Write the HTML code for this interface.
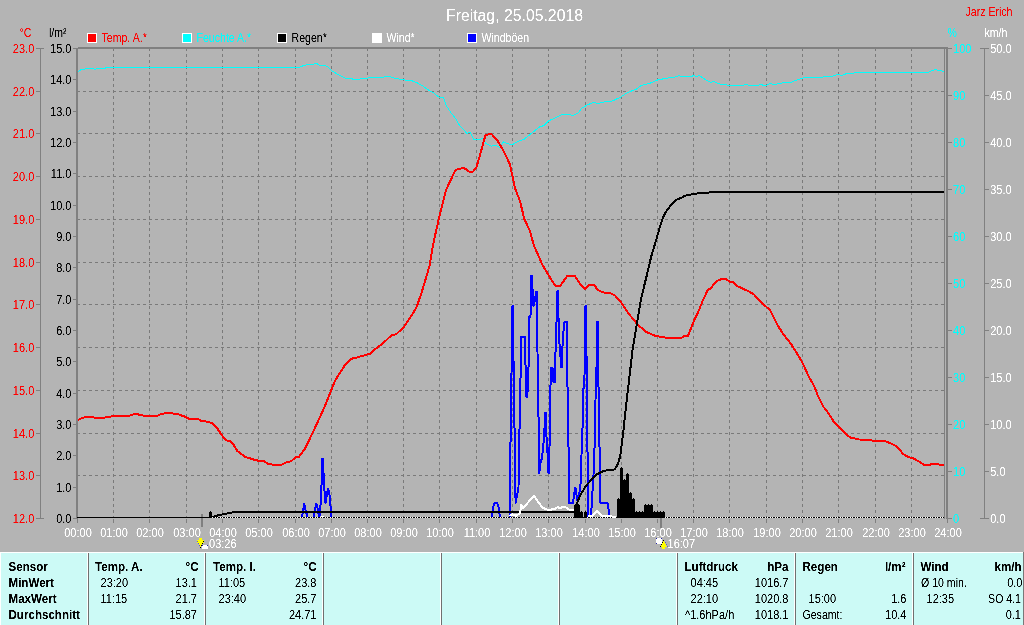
<!DOCTYPE html>
<html lang="de"><head><meta charset="utf-8"><title>Freitag, 25.05.2018</title>
<style>html,body{margin:0;padding:0;background:#b4b4b4;width:1024px;height:625px;overflow:hidden}</style>
</head><body>
<svg width="1024" height="625" viewBox="0 0 1024 625" style="position:absolute;left:0;top:0;will-change:transform;font-family:'Liberation Sans',sans-serif;font-size:12.6px">
<defs><filter id="al" x="0" y="0" width="1024" height="625" filterUnits="userSpaceOnUse" color-interpolation-filters="sRGB"><feComponentTransfer><feFuncA type="table" tableValues="0 0 0.65 1 1"/></feComponentTransfer></filter></defs>
<rect x="0" y="0" width="1024" height="625" fill="#b4b4b4"/>
<g stroke="#7a7a7a" stroke-width="1" stroke-dasharray="3 3" shape-rendering="crispEdges">
<line x1="113.5" y1="48" x2="113.5" y2="518"/>
<line x1="149.5" y1="48" x2="149.5" y2="518"/>
<line x1="186.5" y1="48" x2="186.5" y2="518"/>
<line x1="222.5" y1="48" x2="222.5" y2="518"/>
<line x1="258.5" y1="48" x2="258.5" y2="518"/>
<line x1="295.5" y1="48" x2="295.5" y2="518"/>
<line x1="331.5" y1="48" x2="331.5" y2="518"/>
<line x1="367.5" y1="48" x2="367.5" y2="518"/>
<line x1="403.5" y1="48" x2="403.5" y2="518"/>
<line x1="439.5" y1="48" x2="439.5" y2="518"/>
<line x1="476.5" y1="48" x2="476.5" y2="518"/>
<line x1="512.5" y1="48" x2="512.5" y2="518"/>
<line x1="548.5" y1="48" x2="548.5" y2="518"/>
<line x1="585.5" y1="48" x2="585.5" y2="518"/>
<line x1="621.5" y1="48" x2="621.5" y2="518"/>
<line x1="657.5" y1="48" x2="657.5" y2="518"/>
<line x1="693.5" y1="48" x2="693.5" y2="518"/>
<line x1="729.5" y1="48" x2="729.5" y2="518"/>
<line x1="766.5" y1="48" x2="766.5" y2="518"/>
<line x1="802.5" y1="48" x2="802.5" y2="518"/>
<line x1="838.5" y1="48" x2="838.5" y2="518"/>
<line x1="875.5" y1="48" x2="875.5" y2="518"/>
<line x1="911.5" y1="48" x2="911.5" y2="518"/>
<line x1="77" y1="91.5" x2="944" y2="91.5"/>
<line x1="77" y1="133.5" x2="944" y2="133.5"/>
<line x1="77" y1="176.5" x2="944" y2="176.5"/>
<line x1="77" y1="219.5" x2="944" y2="219.5"/>
<line x1="77" y1="262.5" x2="944" y2="262.5"/>
<line x1="77" y1="304.5" x2="944" y2="304.5"/>
<line x1="77" y1="347.5" x2="944" y2="347.5"/>
<line x1="77" y1="390.5" x2="944" y2="390.5"/>
<line x1="77" y1="433.5" x2="944" y2="433.5"/>
<line x1="77" y1="475.5" x2="944" y2="475.5"/>
</g>
<clipPath id="pc"><rect x="78" y="49" width="867" height="469"/></clipPath>
<g fill="#808080" shape-rendering="crispEdges"><rect x="201" y="514" width="2" height="13"/><rect x="660" y="518" width="2" height="10"/></g>
<g clip-path="url(#pc)">
<polyline points="77.5,72.5 80.5,70 83.75,69.5 86.25,68.25 92.5,68.25 95,69.25 97.5,68.25 105,68.25 107,67 300,67 303.75,65.5 308.75,64.5 313.75,64.25 316.25,63.25 320,65.5 325,65.5 328.75,67.5 332.5,71.25 338.75,75 345,78 351.25,78.75 357.5,80 361.25,78.25 367.5,78.25 370,77.5 382.5,77.5 386.25,76.5 391.25,77 395,78.5 401.25,79.25 405,80 411.25,80.5 417.5,83 422.5,85.75 427.5,89.5 433.75,93 439.5,97.5 443.75,98 446.25,105.5 451.25,113 456.25,119.5 460,126.25 463.75,129.5 467,133.75 470,132 473.75,139.5 478.75,140 482.5,138.25 486.25,143.75 491.25,146.25 495,145 500,147.5 503,141.75 507.5,143.75 512.5,144.5 520,140.5 523.75,139.5 532.5,132.5 540,126.5 543.75,125.75 548.75,120.75 556.25,117.5 562.5,114.25 568.75,114.25 572.5,115.5 578,113.25 582,108 588.75,104.25 593.75,102.5 597.5,103.5 605,101.75 612.5,101 621.25,96.75 627.5,92.5 636.25,89.25 641.25,85.5 650,83.25 657.5,80 666.25,78.25 675,77 678.75,75.75 682.5,76.5 691.25,76.5 693.75,75.5 696.25,76.5 699.25,75.5 705,79.25 710.5,82.5 713.75,81.25 718.75,83.75 730,85.5 742.5,85.5 745.5,84.5 750,85.5 757.5,85.5 760.75,84.5 765,85.75 770,83.75 775,84.5 784.25,82.5 791.75,82 801.75,78.25 809.25,77 823,77 826.75,76 833,76 838,74.25 841.75,75.5 846.75,73.5 853,73.25 856.75,72.25 928,72.25 935,69.5 939.25,70.75 944.25,71.25" fill="none" stroke="#00ffff" stroke-width="1" stroke-linejoin="round" shape-rendering="crispEdges"/>
<polyline points="77.5,420 85,417 92.5,417 95,418 103.75,418 106,417 113.75,416.25 130,415.5 133.75,414.25 137.5,414.25 143.75,415.75 157.5,415.75 161,414 167.5,413 177.5,414 185,416.75 188.75,418.75 197.5,418.75 201,420.75 208.75,422 212.5,423.25 217.5,428.75 223.75,438 227.5,440.75 230,441.25 233.75,445 237.5,451.25 245,456.75 255,460 258.75,460.75 263.75,460.75 267.5,463.75 275,465 281,465 286,462.5 291,461.25 296,457 298.75,457 305,448.75 311,436.25 317.5,422.5 325,406 333.75,383.75 336.25,378.75 345,365 351.25,358.75 355,358 370,353.75 376.25,348.25 382.5,343.75 391.25,335.5 396.25,334.25 403.75,327 410,318 416.25,308 421.25,293.75 426.25,277 429.5,266 433.75,241.25 440,213.75 446.25,189.5 455.5,170 462.5,168 465.5,168.75 468.75,171.5 473,171.5 476.25,168 480,155 485.5,135 491.25,133.75 497.5,140.5 503.75,151.25 510,164.5 515,188 520,201.25 524.25,218.75 530,231.25 533.75,245 542.5,265 550,277.5 555,285.5 560.5,285.5 567.5,275.5 574.5,275.5 580,283.75 585,288.75 588.75,285 594.5,285 597.5,290 603.75,292.5 610,293 615,295.5 621.25,302.5 628.75,313.75 637.5,324.5 646.25,332 655,335.75 667.5,338 681.25,338 683.75,336.25 688,335.75 693.75,321.25 697.5,313.75 702.5,301.25 708,289.5 710.5,288.75 716.25,281.25 721.25,279.25 726.25,279.25 730,281.75 733.75,282.5 737.5,286.25 747.5,290.75 753.75,294.25 761.25,302.5 770,310 777.5,325 783,333.75 791.75,345 801.75,361.25 809.25,377.5 814.25,386.25 818,396.25 823,406.25 828,412.5 834.25,422.5 839.25,427 845.5,433.75 850.5,437.5 859.25,439.5 870.5,440 873,440.75 884.25,440.75 890.5,443.25 896.75,446.25 903,453.75 908,457 914.25,458.75 920.5,462.5 923.5,464.5 930.5,464.5 934.25,463.75 939.25,464.5 944.25,464.5" fill="none" stroke="#ff0000" stroke-width="2" stroke-linejoin="round" shape-rendering="crispEdges"/>
<polyline points="302,517 303.2,510 304.2,504 305.5,510 307.5,517" fill="none" stroke="#0000ff" stroke-width="2" stroke-linejoin="round" shape-rendering="crispEdges"/>
<polyline points="314,517 315,510 316.2,503.5 317.3,507 318.5,514 319.4,516.5 320.3,508 321,498 321.8,478 322.3,459 323.2,459 323.6,476 324.3,489 325.5,503 326.5,497 328,489 329.2,492 330,500 330.8,510 331.3,517" fill="none" stroke="#0000ff" stroke-width="2" stroke-linejoin="round" shape-rendering="crispEdges"/>
<polyline points="491.9,517 493.5,506 495,502.6 497,502.6 498.3,506 500,517" fill="none" stroke="#0000ff" stroke-width="2" stroke-linejoin="round" shape-rendering="crispEdges"/>
<polyline points="510,517 510.4,450 511.1,400 512,340 512.5,306 512.7,306 513.3,350 513.8,377 514.3,424 515,437 515.2,480 515.6,503 517,495 518.5,488 519,437 519.8,424 520.3,388 521.2,346 521.2,336.5 525,336.5 525.3,358 526.5,397 527.3,397 528.9,358 529,317 530.5,317 530.8,276 531.8,276 532.4,287 533,297 533.5,306 535,300 536,291.5 536.8,291.5 536.8,346 537.5,352 538,413 539,420 539.3,473 540.5,463 542,458 543.5,443 544.5,428 545.3,412.5 546,413 546.5,437 547.5,453 548.4,473 549,473 549.7,437 550,403 551,367.5 552.5,368 553.5,382 555,382 555.5,352 556.1,346 556.5,322 557.5,291 558,291 558.5,317 559,341 560,346 561,367 562,367 562.5,346 563,336 564.5,322 567,321.5 567,383 568,390 568,443 569,450 569.2,503.2 572.5,503.2 573,503 574,495 575.2,488.3 576,489 577,500 577.5,500 579.5,492 581,480 582,431 583.2,424 583.4,390 584.5,376 585.5,306 585.8,306 586.8,377 586.8,448 588,455 588.3,517" fill="none" stroke="#0000ff" stroke-width="2" stroke-linejoin="round" shape-rendering="crispEdges"/>
<polyline points="591,517 592,500 593.5,475 594.8,440 595.5,400 596.5,368 597,322 597.8,322 598,383 599,390 599,443 599.9,450 600,502.6 607.25,502.6 607.5,503.5 609.5,515 610,517" fill="none" stroke="#0000ff" stroke-width="2" stroke-linejoin="round" shape-rendering="crispEdges"/>
<polyline points="78,518 208.5,518 211.5,517 214,516.5 217.5,515.5 222,514.5 227,513.5 232,512.5 236,512 574,512 576.9,503.25 580,495.75 586,485.75 592,479.2 597,474.2 602.5,471.4 608.5,470 614.75,469.4 617.9,464 620.4,455.25 622.25,440.25 623.5,430.25 626,406.25 629.1,380 632.5,350 637.5,320 641.25,298 646.25,277.5 651.25,256.5 655,244 659,230 662.8,217.8 665.6,212.2 671.25,204.7 676.9,199.6 680.6,198.1 685.3,195.7 693.75,194 701.25,192.9 716.25,192.1 944.5,192.1" fill="none" stroke="#000" stroke-width="2" stroke-linejoin="round" shape-rendering="crispEdges"/>
<rect x="79" y="517" width="865" height="1" fill="#000" shape-rendering="crispEdges"/>
<line x1="212" y1="517.5" x2="944" y2="517.5" stroke="#fff" stroke-width="1" stroke-dasharray="1 1.5" shape-rendering="crispEdges"/>
<polyline points="509.4,515.75 512.5,514.5 516.25,515.75 520,513.25 521.25,505 523.1,508.25 533.75,495.75 542.5,507.6 548,510 555,509 557.5,507 560,508.25 562.5,507 566.25,507.6 570,510 575,510.5" fill="none" stroke="#ffffff" stroke-width="2" stroke-linejoin="round" shape-rendering="crispEdges"/>
<polyline points="587.5,515.75 592.5,515.75 596.9,511 601.25,515.5 608.5,516 616,517" fill="none" stroke="#ffffff" stroke-width="2" stroke-linejoin="round" shape-rendering="crispEdges"/>
<rect x="321" y="516" width="3" height="1" fill="#fff" shape-rendering="crispEdges"/>
<g fill="#000" shape-rendering="crispEdges">
<rect x="208.5" y="512" width="3" height="6"/>
<rect x="210" y="511" width="1" height="1"/>
<rect x="574" y="505" width="3" height="13"/>
<rect x="575" y="504" width="1" height="1"/>
<rect x="577" y="505" width="3" height="13"/>
<rect x="578" y="504" width="1" height="1"/>
<rect x="580" y="512" width="3" height="6"/>
<rect x="581" y="511" width="1" height="1"/>
<rect x="584" y="512" width="3" height="6"/>
<rect x="585" y="511" width="1" height="1"/>
<rect x="617.3" y="499" width="3" height="19"/>
<rect x="618" y="498" width="1" height="1"/>
<rect x="620.3" y="468" width="3" height="50"/>
<rect x="621" y="467" width="1" height="1"/>
<rect x="623.3" y="480" width="3" height="38"/>
<rect x="624" y="479" width="1" height="1"/>
<rect x="626.3" y="474" width="3" height="44"/>
<rect x="627" y="473" width="1" height="1"/>
<rect x="629.3" y="493" width="3" height="25"/>
<rect x="630" y="492" width="1" height="1"/>
<rect x="632.3" y="499" width="3" height="19"/>
<rect x="633" y="498" width="1" height="1"/>
<rect x="635.3" y="512" width="9.1" height="6"/>
<rect x="636" y="511" width="1" height="1"/>
<rect x="639" y="511" width="1" height="1"/>
<rect x="642" y="511" width="1" height="1"/>
<rect x="644.4" y="505" width="8.8" height="13"/>
<rect x="645" y="504" width="1" height="1"/>
<rect x="648" y="504" width="1" height="1"/>
<rect x="651" y="504" width="1" height="1"/>
<rect x="653.2" y="512" width="12" height="6"/>
<rect x="654" y="511" width="1" height="1"/>
<rect x="657" y="511" width="1" height="1"/>
<rect x="660" y="511" width="1" height="1"/>
<rect x="663" y="511" width="1" height="1"/>
</g>
</g>
<g fill="#808080" shape-rendering="crispEdges">
<rect x="76" y="48" width="2" height="471"/><rect x="78" y="47" width="870" height="2"/>
<rect x="944" y="47" width="1" height="472"/><rect x="946" y="47" width="2" height="472"/>
<rect x="40" y="48" width="1" height="471"/><rect x="984" y="48" width="1" height="471"/>
<rect x="36" y="48" width="8" height="1"/>
<rect x="36" y="91" width="4" height="1"/>
<rect x="36" y="133" width="4" height="1"/>
<rect x="36" y="176" width="4" height="1"/>
<rect x="36" y="219" width="4" height="1"/>
<rect x="36" y="262" width="4" height="1"/>
<rect x="36" y="304" width="4" height="1"/>
<rect x="36" y="347" width="4" height="1"/>
<rect x="36" y="390" width="4" height="1"/>
<rect x="36" y="433" width="4" height="1"/>
<rect x="36" y="475" width="4" height="1"/>
<rect x="36" y="518" width="8" height="1"/>
<rect x="73" y="48" width="3" height="1"/>
<rect x="73" y="79" width="3" height="1"/>
<rect x="73" y="111" width="3" height="1"/>
<rect x="73" y="142" width="3" height="1"/>
<rect x="73" y="173" width="3" height="1"/>
<rect x="73" y="205" width="3" height="1"/>
<rect x="73" y="236" width="3" height="1"/>
<rect x="73" y="267" width="3" height="1"/>
<rect x="73" y="299" width="3" height="1"/>
<rect x="73" y="330" width="3" height="1"/>
<rect x="73" y="361" width="3" height="1"/>
<rect x="73" y="393" width="3" height="1"/>
<rect x="73" y="424" width="3" height="1"/>
<rect x="73" y="455" width="3" height="1"/>
<rect x="73" y="487" width="3" height="1"/>
<rect x="73" y="518" width="3" height="1"/>
<rect x="948" y="48" width="4" height="1"/>
<rect x="980" y="48" width="9" height="1"/>
<rect x="948" y="95" width="4" height="1"/>
<rect x="985" y="95" width="4" height="1"/>
<rect x="948" y="142" width="4" height="1"/>
<rect x="985" y="142" width="4" height="1"/>
<rect x="948" y="189" width="4" height="1"/>
<rect x="985" y="189" width="4" height="1"/>
<rect x="948" y="236" width="4" height="1"/>
<rect x="985" y="236" width="4" height="1"/>
<rect x="948" y="283" width="4" height="1"/>
<rect x="985" y="283" width="4" height="1"/>
<rect x="948" y="330" width="4" height="1"/>
<rect x="985" y="330" width="4" height="1"/>
<rect x="948" y="377" width="4" height="1"/>
<rect x="985" y="377" width="4" height="1"/>
<rect x="948" y="424" width="4" height="1"/>
<rect x="985" y="424" width="4" height="1"/>
<rect x="948" y="471" width="4" height="1"/>
<rect x="985" y="471" width="4" height="1"/>
<rect x="948" y="518" width="4" height="1"/>
<rect x="980" y="518" width="9" height="1"/>
<rect x="77" y="519" width="1" height="4"/>
<rect x="113" y="519" width="1" height="4"/>
<rect x="149" y="519" width="1" height="4"/>
<rect x="186" y="519" width="1" height="4"/>
<rect x="222" y="519" width="1" height="4"/>
<rect x="258" y="519" width="1" height="4"/>
<rect x="295" y="519" width="1" height="4"/>
<rect x="331" y="519" width="1" height="4"/>
<rect x="367" y="519" width="1" height="4"/>
<rect x="403" y="519" width="1" height="4"/>
<rect x="439" y="519" width="1" height="4"/>
<rect x="476" y="519" width="1" height="4"/>
<rect x="512" y="519" width="1" height="4"/>
<rect x="548" y="519" width="1" height="4"/>
<rect x="585" y="519" width="1" height="4"/>
<rect x="621" y="519" width="1" height="4"/>
<rect x="657" y="519" width="1" height="4"/>
<rect x="693" y="519" width="1" height="4"/>
<rect x="729" y="519" width="1" height="4"/>
<rect x="766" y="519" width="1" height="4"/>
<rect x="802" y="519" width="1" height="4"/>
<rect x="838" y="519" width="1" height="4"/>
<rect x="875" y="519" width="1" height="4"/>
<rect x="911" y="519" width="1" height="4"/>
<rect x="947" y="519" width="1" height="4"/>
</g>
<rect x="77" y="517" width="2" height="1" fill="#000" shape-rendering="crispEdges"/>
<rect x="87.5" y="33.5" width="9" height="9" fill="#ff0000" stroke="#fff" stroke-width="1" shape-rendering="crispEdges"/>
<rect x="182.5" y="33.5" width="9" height="9" fill="#00ffff" stroke="#fff" stroke-width="1" shape-rendering="crispEdges"/>
<rect x="277.5" y="33.5" width="9" height="9" fill="#000" stroke="#fff" stroke-width="1" shape-rendering="crispEdges"/>
<rect x="372.5" y="33.5" width="9" height="9" fill="#fff" stroke="#fff" stroke-width="1" shape-rendering="crispEdges"/>
<rect x="467.5" y="33.5" width="9" height="9" fill="#0000ff" stroke="#fff" stroke-width="1" shape-rendering="crispEdges"/>
<g shape-rendering="crispEdges">
<path d="M199 538H202V540H203.6V542.6L200.5 547L197.4 542.6V540H199Z" fill="#ffff00"/>
<path d="M203 541h1v1h-1zM202 543h1v1h-1zM201 545h1v1h-1zM200 547h1v0.6h-1z" fill="#000"/>
<path d="M197 541h1v1h-1zM198 543h1v1h-1zM199 545h1v1h-1z" fill="#5a5ad0"/>
<path d="M202 549V547.6A3 2.8 0 0 1 208 547.6V549Z" fill="#fff"/>
<path d="M202 545h1v1h-1zM207 545h1v1h-1z" fill="#2828a8"/>
<rect x="656" y="538" width="6" height="6" fill="#fff"/>
<path d="M656 538h1v1h-1zM661 538h1v1h-1zM656 543h1v1h-1z" fill="#2828a8"/>
<path d="M663.5 540L667 546.6H665V549H662V546.6H660Z" fill="#ffff00"/>
<path d="M663 540h1v1h-1zM662 542h1v1h-1zM661 544h1v1h-1zM660 546h1v1h-1z" fill="#000"/>
<path d="M665 542h1v1h-1zM666 544h1v1h-1zM667 546h1v1h-1z" fill="#5a5ad0"/>
</g>
<g shape-rendering="crispEdges">
<rect x="0" y="552" width="1024" height="73" fill="#ccfaf6"/>
<rect x="0" y="552" width="1024" height="1" fill="#fff"/><rect x="0" y="552" width="1" height="73" fill="#fff"/>
<rect x="88" y="553" width="1" height="72" fill="#707070"/><rect x="87" y="553" width="1" height="72" fill="#fff"/>
<rect x="205" y="553" width="1" height="72" fill="#707070"/><rect x="204" y="553" width="1" height="72" fill="#fff"/>
<rect x="323" y="553" width="1" height="72" fill="#707070"/><rect x="322" y="553" width="1" height="72" fill="#fff"/>
<rect x="441" y="553" width="1" height="72" fill="#707070"/><rect x="440" y="553" width="1" height="72" fill="#fff"/>
<rect x="559" y="553" width="1" height="72" fill="#707070"/><rect x="558" y="553" width="1" height="72" fill="#fff"/>
<rect x="677" y="553" width="1" height="72" fill="#707070"/><rect x="676" y="553" width="1" height="72" fill="#fff"/>
<rect x="795" y="553" width="1" height="72" fill="#707070"/><rect x="794" y="553" width="1" height="72" fill="#fff"/>
<rect x="913" y="553" width="1" height="72" fill="#707070"/><rect x="912" y="553" width="1" height="72" fill="#fff"/>
<rect x="1023" y="552" width="1" height="73" fill="#787878"/>
</g>
<g filter="url(#al)">
<text transform="translate(34.3 53) scale(0.875 1)" fill="#ff0000" text-anchor="end">23.0</text>
<text transform="translate(34.3 96) scale(0.875 1)" fill="#ff0000" text-anchor="end">22.0</text>
<text transform="translate(34.3 138) scale(0.875 1)" fill="#ff0000" text-anchor="end">21.0</text>
<text transform="translate(34.3 181) scale(0.875 1)" fill="#ff0000" text-anchor="end">20.0</text>
<text transform="translate(34.3 224) scale(0.875 1)" fill="#ff0000" text-anchor="end">19.0</text>
<text transform="translate(34.3 267) scale(0.875 1)" fill="#ff0000" text-anchor="end">18.0</text>
<text transform="translate(34.3 309) scale(0.875 1)" fill="#ff0000" text-anchor="end">17.0</text>
<text transform="translate(34.3 352) scale(0.875 1)" fill="#ff0000" text-anchor="end">16.0</text>
<text transform="translate(34.3 395) scale(0.875 1)" fill="#ff0000" text-anchor="end">15.0</text>
<text transform="translate(34.3 438) scale(0.875 1)" fill="#ff0000" text-anchor="end">14.0</text>
<text transform="translate(34.3 480) scale(0.875 1)" fill="#ff0000" text-anchor="end">13.0</text>
<text transform="translate(34.3 523) scale(0.875 1)" fill="#ff0000" text-anchor="end">12.0</text>
<text transform="translate(71.5 53) scale(0.875 1)" fill="#000" text-anchor="end">15.0</text>
<text transform="translate(71.5 84) scale(0.875 1)" fill="#000" text-anchor="end">14.0</text>
<text transform="translate(71.5 116) scale(0.875 1)" fill="#000" text-anchor="end">13.0</text>
<text transform="translate(71.5 147) scale(0.875 1)" fill="#000" text-anchor="end">12.0</text>
<text transform="translate(71.5 178) scale(0.875 1)" fill="#000" text-anchor="end">11.0</text>
<text transform="translate(71.5 210) scale(0.875 1)" fill="#000" text-anchor="end">10.0</text>
<text transform="translate(71.5 241) scale(0.875 1)" fill="#000" text-anchor="end">9.0</text>
<text transform="translate(71.5 272) scale(0.875 1)" fill="#000" text-anchor="end">8.0</text>
<text transform="translate(71.5 304) scale(0.875 1)" fill="#000" text-anchor="end">7.0</text>
<text transform="translate(71.5 335) scale(0.875 1)" fill="#000" text-anchor="end">6.0</text>
<text transform="translate(71.5 366) scale(0.875 1)" fill="#000" text-anchor="end">5.0</text>
<text transform="translate(71.5 398) scale(0.875 1)" fill="#000" text-anchor="end">4.0</text>
<text transform="translate(71.5 429) scale(0.875 1)" fill="#000" text-anchor="end">3.0</text>
<text transform="translate(71.5 460) scale(0.875 1)" fill="#000" text-anchor="end">2.0</text>
<text transform="translate(71.5 492) scale(0.875 1)" fill="#000" text-anchor="end">1.0</text>
<text transform="translate(71.5 523) scale(0.875 1)" fill="#000" text-anchor="end">0.0</text>
<text transform="translate(953 53) scale(0.875 1)" fill="#00ffff">100</text>
<text transform="translate(953 100) scale(0.875 1)" fill="#00ffff">90</text>
<text transform="translate(953 147) scale(0.875 1)" fill="#00ffff">80</text>
<text transform="translate(953 194) scale(0.875 1)" fill="#00ffff">70</text>
<text transform="translate(953 241) scale(0.875 1)" fill="#00ffff">60</text>
<text transform="translate(953 288) scale(0.875 1)" fill="#00ffff">50</text>
<text transform="translate(953 335) scale(0.875 1)" fill="#00ffff">40</text>
<text transform="translate(953 382) scale(0.875 1)" fill="#00ffff">30</text>
<text transform="translate(953 429) scale(0.875 1)" fill="#00ffff">20</text>
<text transform="translate(953 476) scale(0.875 1)" fill="#00ffff">10</text>
<text transform="translate(953 523) scale(0.875 1)" fill="#00ffff">0</text>
<text transform="translate(990.2 53) scale(0.875 1)" fill="#fff">50.0</text>
<text transform="translate(990.2 100) scale(0.875 1)" fill="#fff">45.0</text>
<text transform="translate(990.2 147) scale(0.875 1)" fill="#fff">40.0</text>
<text transform="translate(990.2 194) scale(0.875 1)" fill="#fff">35.0</text>
<text transform="translate(990.2 241) scale(0.875 1)" fill="#fff">30.0</text>
<text transform="translate(990.2 288) scale(0.875 1)" fill="#fff">25.0</text>
<text transform="translate(990.2 335) scale(0.875 1)" fill="#fff">20.0</text>
<text transform="translate(990.2 382) scale(0.875 1)" fill="#fff">15.0</text>
<text transform="translate(990.2 429) scale(0.875 1)" fill="#fff">10.0</text>
<text transform="translate(990.2 476) scale(0.875 1)" fill="#fff">5.0</text>
<text transform="translate(990.2 523) scale(0.875 1)" fill="#fff">0.0</text>
<text transform="translate(78 537) scale(0.875 1)" fill="#fff" text-anchor="middle">00:00</text>
<text transform="translate(114 537) scale(0.875 1)" fill="#fff" text-anchor="middle">01:00</text>
<text transform="translate(150 537) scale(0.875 1)" fill="#fff" text-anchor="middle">02:00</text>
<text transform="translate(187 537) scale(0.875 1)" fill="#fff" text-anchor="middle">03:00</text>
<text transform="translate(223 537) scale(0.875 1)" fill="#fff" text-anchor="middle">04:00</text>
<text transform="translate(259 537) scale(0.875 1)" fill="#fff" text-anchor="middle">05:00</text>
<text transform="translate(296 537) scale(0.875 1)" fill="#fff" text-anchor="middle">06:00</text>
<text transform="translate(332 537) scale(0.875 1)" fill="#fff" text-anchor="middle">07:00</text>
<text transform="translate(368 537) scale(0.875 1)" fill="#fff" text-anchor="middle">08:00</text>
<text transform="translate(404 537) scale(0.875 1)" fill="#fff" text-anchor="middle">09:00</text>
<text transform="translate(440 537) scale(0.875 1)" fill="#fff" text-anchor="middle">10:00</text>
<text transform="translate(477 537) scale(0.875 1)" fill="#fff" text-anchor="middle">11:00</text>
<text transform="translate(513 537) scale(0.875 1)" fill="#fff" text-anchor="middle">12:00</text>
<text transform="translate(549 537) scale(0.875 1)" fill="#fff" text-anchor="middle">13:00</text>
<text transform="translate(586 537) scale(0.875 1)" fill="#fff" text-anchor="middle">14:00</text>
<text transform="translate(622 537) scale(0.875 1)" fill="#fff" text-anchor="middle">15:00</text>
<text transform="translate(658 537) scale(0.875 1)" fill="#fff" text-anchor="middle">16:00</text>
<text transform="translate(694 537) scale(0.875 1)" fill="#fff" text-anchor="middle">17:00</text>
<text transform="translate(730 537) scale(0.875 1)" fill="#fff" text-anchor="middle">18:00</text>
<text transform="translate(767 537) scale(0.875 1)" fill="#fff" text-anchor="middle">19:00</text>
<text transform="translate(803 537) scale(0.875 1)" fill="#fff" text-anchor="middle">20:00</text>
<text transform="translate(839 537) scale(0.875 1)" fill="#fff" text-anchor="middle">21:00</text>
<text transform="translate(876 537) scale(0.875 1)" fill="#fff" text-anchor="middle">22:00</text>
<text transform="translate(912 537) scale(0.875 1)" fill="#fff" text-anchor="middle">23:00</text>
<text transform="translate(948 537) scale(0.875 1)" fill="#fff" text-anchor="middle">24:00</text>
<text transform="translate(19.5 37) scale(0.84 1)" fill="#ff0000">°C</text>
<text transform="translate(49 37) scale(0.84 1)" fill="#000">l/m²</text>
<text transform="translate(947.5 37) scale(0.84 1)" fill="#00ffff">%</text>
<text transform="translate(984.5 37) scale(0.84 1)" fill="#fff">km/h</text>
<text transform="translate(1012.5 16) scale(0.84 1)" fill="#ff0000" text-anchor="end">Jarz Erich</text>
<text x="514.5" y="21" fill="#fff" font-size="15.8px" text-anchor="middle">Freitag, 25.05.2018</text>
<text transform="translate(101.5 42) scale(0.84 1)" fill="#ff0000">Temp. A.*</text>
<text transform="translate(196.5 42) scale(0.84 1)" fill="#00ffff">Feuchte A.*</text>
<text transform="translate(291.5 42) scale(0.84 1)" fill="#000">Regen*</text>
<text transform="translate(386.5 42) scale(0.84 1)" fill="#fff">Wind*</text>
<text transform="translate(481.5 42) scale(0.84 1)" fill="#fff">Windböen</text>
<text transform="translate(209 548) scale(0.875 1)" fill="#fff">03:26</text>
<text transform="translate(667.5 548) scale(0.875 1)" fill="#fff">16:07</text>
<text transform="translate(8.5 571) scale(0.92 1)" fill="#000" font-weight="bold">Sensor</text>
<text transform="translate(8.5 587) scale(0.92 1)" fill="#000" font-weight="bold">MinWert</text>
<text transform="translate(8.5 603) scale(0.92 1)" fill="#000" font-weight="bold">MaxWert</text>
<text transform="translate(8.5 619) scale(0.92 1)" fill="#000" font-weight="bold">Durchschnitt</text>
<text transform="translate(95 571) scale(0.92 1)" fill="#000" font-weight="bold">Temp. A.</text>
<text transform="translate(198.5 571) scale(0.92 1)" fill="#000" text-anchor="end" font-weight="bold">°C</text>
<text transform="translate(100.5 587) scale(0.875 1)" fill="#000">23:20</text>
<text transform="translate(197 587) scale(0.875 1)" fill="#000" text-anchor="end">13.1</text>
<text transform="translate(100.5 603) scale(0.875 1)" fill="#000">11:15</text>
<text transform="translate(197 603) scale(0.875 1)" fill="#000" text-anchor="end">21.7</text>
<text transform="translate(197 619) scale(0.875 1)" fill="#000" text-anchor="end">15.87</text>
<text transform="translate(213 571) scale(0.92 1)" fill="#000" font-weight="bold">Temp. I.</text>
<text transform="translate(316.5 571) scale(0.92 1)" fill="#000" text-anchor="end" font-weight="bold">°C</text>
<text transform="translate(218.5 587) scale(0.875 1)" fill="#000">11:05</text>
<text transform="translate(316.5 587) scale(0.875 1)" fill="#000" text-anchor="end">23.8</text>
<text transform="translate(218.5 603) scale(0.875 1)" fill="#000">23:40</text>
<text transform="translate(316.5 603) scale(0.875 1)" fill="#000" text-anchor="end">25.7</text>
<text transform="translate(316.5 619) scale(0.875 1)" fill="#000" text-anchor="end">24.71</text>
<text transform="translate(684.5 571) scale(0.92 1)" fill="#000" font-weight="bold">Luftdruck</text>
<text transform="translate(788.5 571) scale(0.92 1)" fill="#000" text-anchor="end" font-weight="bold">hPa</text>
<text transform="translate(690.5 587) scale(0.875 1)" fill="#000">04:45</text>
<text transform="translate(788.5 587) scale(0.875 1)" fill="#000" text-anchor="end">1016.7</text>
<text transform="translate(690.5 603) scale(0.875 1)" fill="#000">22:10</text>
<text transform="translate(788.5 603) scale(0.875 1)" fill="#000" text-anchor="end">1020.8</text>
<text transform="translate(685 619) scale(0.875 1)" fill="#000">^1.6hPa/h</text>
<text transform="translate(788.5 619) scale(0.875 1)" fill="#000" text-anchor="end">1018.1</text>
<text transform="translate(802.5 571) scale(0.92 1)" fill="#000" font-weight="bold">Regen</text>
<text transform="translate(905.5 571) scale(0.92 1)" fill="#000" text-anchor="end" font-weight="bold">l/m²</text>
<text transform="translate(808.5 603) scale(0.875 1)" fill="#000">15:00</text>
<text transform="translate(906.5 603) scale(0.875 1)" fill="#000" text-anchor="end">1.6</text>
<text transform="translate(802.5 619) scale(0.84 1)" fill="#000">Gesamt:</text>
<text transform="translate(906.5 619) scale(0.875 1)" fill="#000" text-anchor="end">10.4</text>
<text transform="translate(920.5 571) scale(0.92 1)" fill="#000" font-weight="bold">Wind</text>
<text transform="translate(1021.5 571) scale(0.92 1)" fill="#000" text-anchor="end" font-weight="bold">km/h</text>
<text transform="translate(921 587) scale(0.84 1)" fill="#000">Ø 10 min.</text>
<text transform="translate(1022.5 587) scale(0.875 1)" fill="#000" text-anchor="end">0.0</text>
<text transform="translate(926.5 603) scale(0.875 1)" fill="#000">12:35</text>
<text transform="translate(1021 603) scale(0.84 1)" fill="#000" text-anchor="end">SO 4.1</text>
<text transform="translate(1021 619) scale(0.875 1)" fill="#000" text-anchor="end">0.1</text>
</g>
</svg>
</body></html>
